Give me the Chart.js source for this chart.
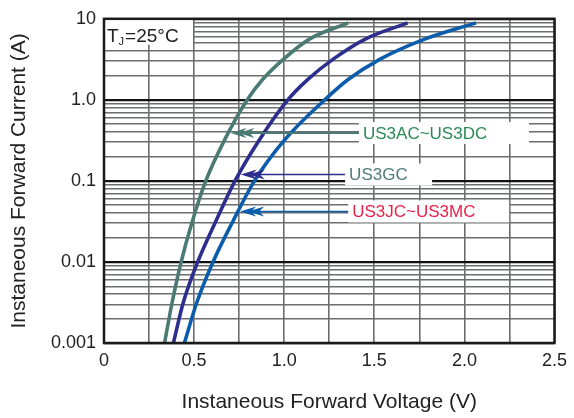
<!DOCTYPE html>
<html>
<head>
<meta charset="UTF-8">
<title>forwardVoltage.html</title>
<style>
	body {margin:0; background:#fff}
	#wrap {width:574px; height:418px}
</style>
</head>
<body>
	<div id="wrap"><canvas id="fwdChart" width="574" height="418"></canvas></div>
</body>
<script src="https://cdn.jsdelivr.net/npm/chart.js@4"></script>
<script>
	// 곡선 데이터 (V, A)
	const seriesNames = ['US3AC~US3DC', 'US3GC', 'US3JC~US3MC'];
	const ampLevels = [0.001, 0.00316, 0.01, 0.0316, 0.1, 0.316, 1.0, 1.78, 3.16, 5.62, 8.9];
	const voltAC = [0.336, 0.378, 0.428, 0.49, 0.565, 0.668, 0.795, 0.88, 0.995, 1.14, 1.355];
	const voltGC = [0.385, 0.44, 0.52, 0.62, 0.727, 0.86, 1.02, 1.13, 1.27, 1.45, 1.685];
	const voltJC = [0.446, 0.515, 0.605, 0.715, 0.835, 1.0, 1.225, 1.355, 1.53, 1.78, 2.065];

	// 축 눈금
	const decades = [0.001, 0.01, 0.1, 1];
	const minorSteps = [1, 2, 3, 4, 5, 6, 7, 8, 9];
	const yTickLabels = ['0.001', '0.01', '0.1', '1.0', '10'];
	const xTickLabels = ['0', '0.5', '1.0', '1.5', '2.0', '2.5'];

	// 화살표가 가리키는 전류값과 꼬리 끝 전압
	const arrowTipA = [0.39, 0.12, 0.042];
	const arrowEndV = [1.415, 1.338, 1.355];

	const lineColors = ['#4b7a74', '#2e2e8e', '#0b5cab'];
	const textColors = ['#2a8a55', '#4f7a7a', '#e8214b'];
	const boxWidths = [170, 87, 161];
	const voltSets = [voltAC, voltGC, voltJC];

	let yTicks = [];
	decades.forEach(function(d) {
		minorSteps.forEach(function(m) { yTicks.push(+(d * m).toPrecision(3)); });
	});
	yTicks.push(10);

	function toPoints(vs) {
		return vs.map(function(v, i) { return {x: v, y: ampLevels[i]}; });
	}

	function isDecade(v) {
		return Math.abs(Math.log10(v) - Math.round(Math.log10(v))) < 1e-6;
	}

	// 곡선 위의 x 픽셀 (그려진 선에서 찾기)
	function curveX(chart, i, yPix) {
		const pts = chart.getDatasetMeta(i).data;
		for (let k = 1; k < pts.length; k++) {
			const p0 = pts[k - 1], p1 = pts[k];
			if (yPix <= p0.y && yPix >= p1.y) {
				const t = (p0.y - yPix) / (p0.y - p1.y);
				return p0.x + t * (p1.x - p0.x);
			}
		}
		return pts[0].x;
	}

	const FONT = 'Liberation Sans, Arial, sans-serif';

	const notes = {
		id: 'notes',
		afterDatasetsDraw(chart) {
			const ctx = chart.ctx;
			const a = chart.chartArea;
			const xs = chart.scales.x, ys = chart.scales.y;
			ctx.save();
			// 라벨 + 화살표
			seriesNames.forEach(function(name, i) {
				const yy = ys.getPixelForValue(arrowTipA[i]);
				const tipX = curveX(chart, i, yy) + 2;
				const endX = xs.getPixelForValue(arrowEndV[i]);
				ctx.fillStyle = '#fff';
				ctx.fillRect(endX, yy - 11, boxWidths[i], 22);
				ctx.strokeStyle = lineColors[i];
				ctx.fillStyle = lineColors[i];
				ctx.lineWidth = i === 0 ? 2 : 1.6;
				ctx.beginPath();
				ctx.moveTo(tipX + 4, yy);
				ctx.lineTo(endX, yy);
				ctx.stroke();
				[0, 8].forEach(function(off) {
					const tx = tipX + off;
					ctx.beginPath();
					ctx.moveTo(tx, yy);
					ctx.lineTo(tx + 16, yy - 5);
					ctx.lineTo(tx + 11, yy);
					ctx.lineTo(tx + 16, yy + 5);
					ctx.closePath();
					ctx.fill();
				});
				ctx.fillStyle = textColors[i];
				ctx.font = '17px ' + FONT;
				ctx.textBaseline = 'middle';
				ctx.textAlign = 'left';
				ctx.fillText(name, endX + 4, yy + 1);
			});
			// Tj 박스
			ctx.fillStyle = '#fff';
			ctx.fillRect(a.left, a.top, 89, 26);
			ctx.fillStyle = '#222';
			ctx.textBaseline = 'alphabetic';
			ctx.font = '19px ' + FONT;
			ctx.fillText('T', a.left + 3, a.top + 23);
			let w = ctx.measureText('T').width;
			ctx.font = '11px ' + FONT;
			ctx.fillText('J', a.left + 3 + w, a.top + 26);
			let w2 = ctx.measureText('J').width;
			ctx.font = '19px ' + FONT;
			ctx.fillText('=25°C', a.left + 4 + w + w2, a.top + 23);
			// 테두리
			ctx.strokeStyle = '#1a1a1a';
			ctx.lineWidth = 2.5;
			ctx.strokeRect(a.left, a.top, a.right - a.left, a.bottom - a.top);
			ctx.restore();
		}
	};

	const ctx = document.getElementById('fwdChart');
	const chart = new Chart(ctx, {
		type: 'line',
		data: {
			datasets: voltSets.map(function(vs, i) {
				return {
					label: seriesNames[i],
					data: toPoints(vs),
					borderColor: lineColors[i],
					borderWidth: 3.6,
					pointRadius: 0,
					fill: false,
					cubicInterpolationMode: 'monotone'
				};
			})
		},
		options: {
			responsive: false,
			animation: false,
			devicePixelRatio: 1,
			layout: {padding: {top: 16, right: 16, left: 0, bottom: 0}},
			plugins: {legend: {display: false}, tooltip: {enabled: false}},
			scales: {
				x: {
					type: 'linear', min: 0, max: 2.5,
					afterFit: function(s) { s.height = 75; },
					ticks: {
						stepSize: 0.25, autoSkip: false, padding: 7, color: '#222',
						font: {family: FONT, size: 18},
						callback: function(v) {
							const k = Math.round(v / 0.5);
							return Math.abs(v - k * 0.5) < 1e-6 ? xTickLabels[k] : '';
						}
					},
					grid: {color: '#6b6e6d', lineWidth: 1.6, drawTicks: false},
					border: {display: false},
					title: {display: true, text: 'Instaneous Forward Voltage (V)', color: '#222',
						font: {family: FONT, size: 21}, padding: {top: 0, bottom: 3}}
				},
				y: {
					type: 'logarithmic', min: 0.001, max: 10,
					afterFit: function(s) { s.width = 104; },
					afterBuildTicks: function(s) { s.ticks = yTicks.map(function(v) { return {value: v}; }); },
					ticks: {
						autoSkip: false, padding: 8, color: '#222',
						font: {family: FONT, size: 18},
						callback: function(v) {
							if (!isDecade(v)) return '';
							return yTickLabels[Math.round(Math.log10(v)) + 3];
						}
					},
					grid: {
						drawTicks: false,
						color: function(c) { return isDecade(c.tick.value) ? '#111' : '#6b6e6d'; },
						lineWidth: function(c) { return isDecade(c.tick.value) ? 2.2 : 1.6; }
					},
					border: {display: false},
					title: {display: true, text: 'Instaneous Forward Current (A)', color: '#222',
						font: {family: FONT, size: 21}, padding: {top: 7, bottom: 0}}
				}
			}
		},
		plugins: [notes]
	});
</script>
</html>
